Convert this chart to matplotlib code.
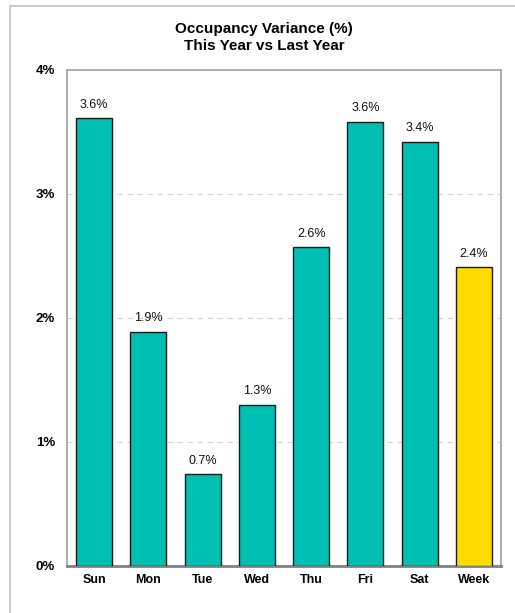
import matplotlib.pyplot as plt
from matplotlib.patches import Rectangle

plt.rcParams["font.family"] = ["Liberation Sans", "DejaVu Sans"]

days = ["Sun", "Mon", "Tue", "Wed", "Thu", "Fri", "Sat", "Week"]
variance = [3.61, 1.89, 0.74, 1.30, 2.57, 3.58, 3.42, 2.41]
labels = ["3.6%", "1.9%", "0.7%", "1.3%", "2.6%", "3.6%", "3.4%", "2.4%"]
yticks = [0, 1, 2, 3, 4]

teal = "#00BFB2"
gold = "#FFDC00"
colours = [teal] * 7 + [gold]

fig = plt.figure(figsize=(5.15, 6.13), dpi=100)
fig.patches.append(Rectangle((10 / 515, -0.1), 1.2, 1.1 - 6 / 613, transform=fig.transFigure,
                             fill=False, edgecolor="#c0c0c0", linewidth=1.2))

ax = fig.add_axes([67 / 515, 47 / 613, 434 / 515, 496 / 613])
x = list(range(len(days)))
ax.bar(x, variance, width=0.66, color=colours, edgecolor="#1a1a1a", linewidth=1.0, zorder=3)

for xi, v, lab in zip(x, variance, labels):
    ax.annotate(lab, (xi, v), xytext=(0, 5.5), textcoords="offset points",
                ha="center", va="bottom", fontsize=9, color="#111111")

ax.set_xlim(-0.5, len(days) - 0.5)
ax.set_ylim(0, 4)
ax.set_yticks(yticks)
ax.set_yticklabels([f"{t}%" for t in yticks], fontweight="bold", fontsize=9.5)
ax.set_xticks(x)
ax.set_xticklabels(days, fontweight="bold", fontsize=9)
ax.tick_params(axis="y", length=0, pad=8.5)
ax.tick_params(axis="x", length=0, pad=6)

for t in [1, 2, 3]:
    ax.axhline(t, color="#d0d0d0", linestyle=(0, (5, 4)), linewidth=0.8, zorder=1)

for side in ["left", "top", "right"]:
    ax.spines[side].set_color("#a0a0a0")
    ax.spines[side].set_linewidth(1.2)
ax.spines["bottom"].set_color("#808080")
ax.spines["bottom"].set_linewidth(2)

fig.text(264 / 515, 1 - 29 / 613, "Occupancy Variance (%)", ha="center", va="center",
         fontsize=11, fontweight="bold")
fig.text(264 / 515, 1 - 46 / 613, "This Year vs Last Year", ha="center", va="center",
         fontsize=11, fontweight="bold")

fig.savefig("out.png", dpi=100)
